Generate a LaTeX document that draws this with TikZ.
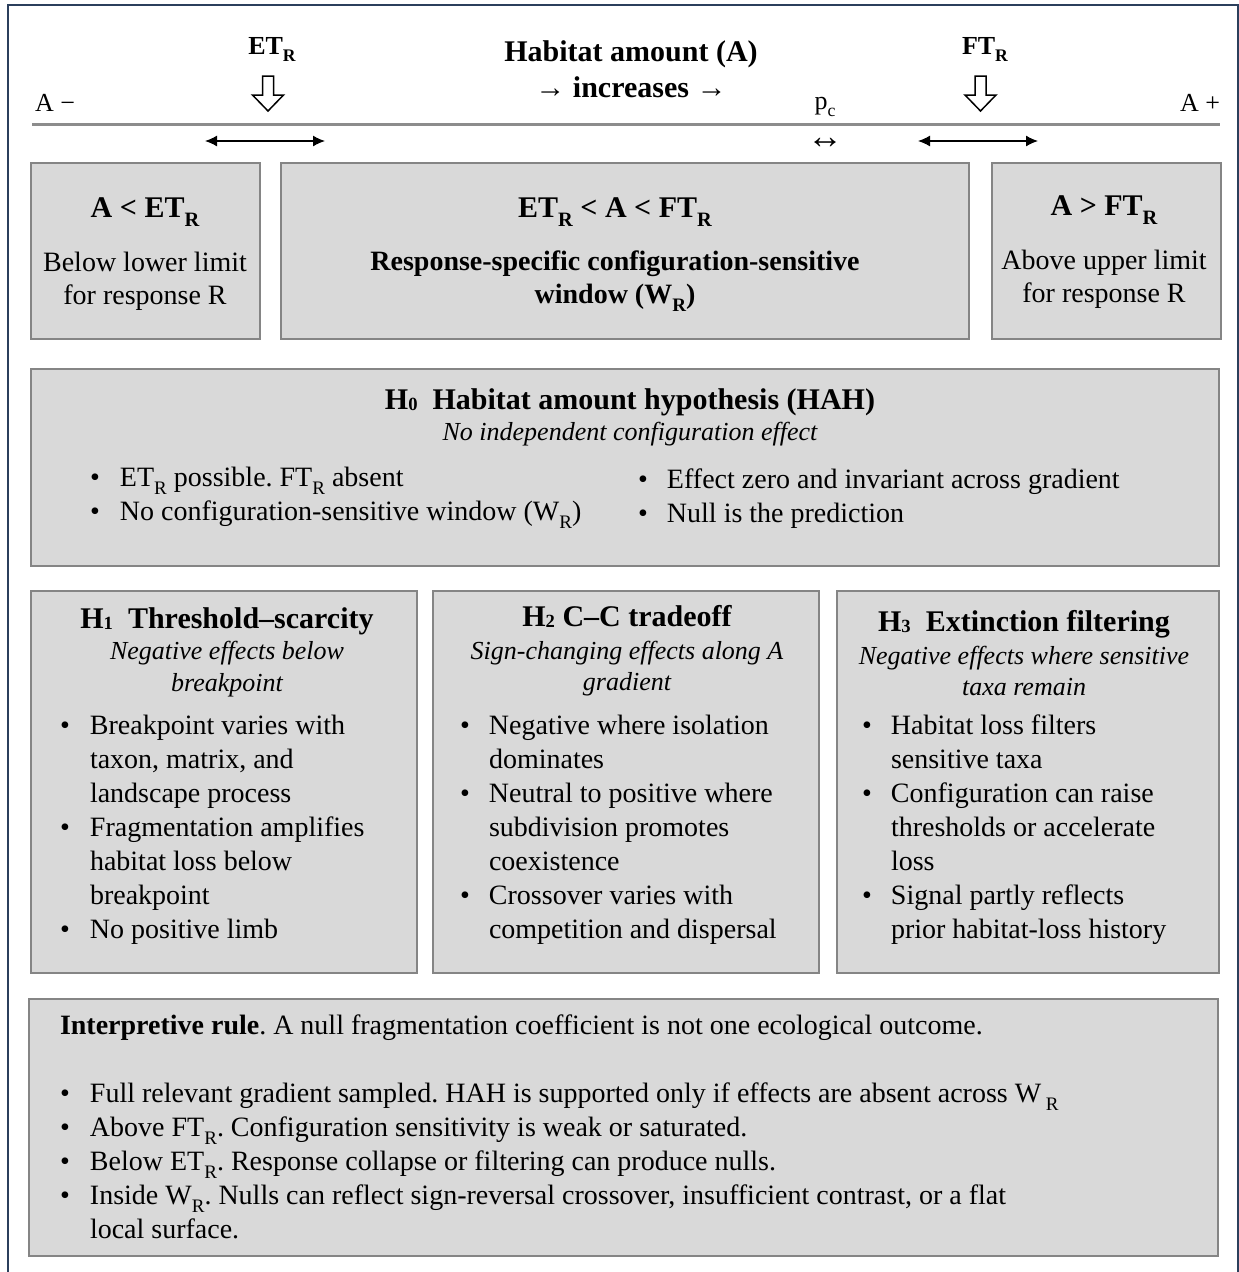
\documentclass[tikz,border=0pt]{standalone}
\usepackage{fontspec}
\setmainfont{Liberation Serif}
\usetikzlibrary{arrows.meta}
\definecolor{boxfill}{HTML}{D9D9D9}
\definecolor{boxline}{HTML}{858585}
\definecolor{framecol}{HTML}{2B3F5C}
\definecolor{axiscol}{HTML}{8C8C8C}
\newcommand\lsub[1]{\raisebox{-0.3em}{\scalebox{0.68}{#1}}}
\newcommand\dsub[1]{\raisebox{-0.06em}{\scalebox{0.62}{#1}}}
\newcommand\fs[2]{\fontsize{#1}{#2}\selectfont}
\newcommand\bul{\textbullet}
\frenchspacing
\begin{document}
\begin{tikzpicture}[x=1pt,y=-1pt,
  panel/.style={draw=boxline, fill=boxfill, line width=1.6pt, inner sep=0pt, anchor=north west},
  txt/.style={inner sep=0pt, outer sep=0pt, anchor=base},
  ltxt/.style={inner sep=0pt, outer sep=0pt, anchor=base west},
  body/.style={font=\fs{28}{34}},
  hdr/.style={font=\fs{26}{30}},
  btitle/.style={font=\fs{30}{34}\bfseries},
  bbody/.style={font=\fs{28}{34}\bfseries},
  itsub/.style={font=\fs{26}{32}\itshape},
  dbl/.style={{Latex[length=12pt,width=11pt]}-{Latex[length=12pt,width=11pt]}, line width=1.3pt},
  hollow/.style={draw=black, fill=white, line width=1.5pt, line join=miter}
]
\useasboundingbox (0,0) rectangle (1239,1272);
% outer frame
\draw[framecol, line width=2.2pt] (8,1285) -- (8,5) -- (1238,5) -- (1238,1285);

% ---------- header ----------
\node[txt, font=\fs{26}{30}\bfseries] (etlab) at (272,54) {ET\lsub{R}};
\node[txt, font=\fs{30}{34}\bfseries] (title1) at (631,61) {Habitat amount (A)};
\node[txt, font=\fs{30}{34}\bfseries] (title2) at (631,97) {→ increases →};
\node[txt, font=\fs{26}{30}\bfseries] (ftlab) at (985,54) {FT\lsub{R}};
\node[ltxt, hdr] (aminus) at (35,111) {A −};
\node[txt, hdr, anchor=base east] (aplus) at (1220,111) {A +};
\node[txt, hdr] (pc) at (825,109) {p\lsub{c}};
\node[txt, font=\fs{36}{40}] (pcarrow) at (825,148) {↔};

\coordinate (axL) at (32,124);
\coordinate (axR) at (1220,124);
\draw[axiscol, line width=3pt] (axL) -- (axR);

% hollow arrows
\draw[hollow] (262.5,76) -- (273.5,76) -- (273.5,95) -- (283.5,95) -- (268,111) -- (252.5,95) -- (262.5,95) -- cycle;
\draw[hollow] (975,76) -- (986,76) -- (986,95) -- (996,95) -- (980.5,111) -- (965,95) -- (975,95) -- cycle;

\coordinate (etL) at (205,141);
\coordinate (etR) at (325,141);
\coordinate (ftL) at (918,141);
\coordinate (ftR) at (1038,141);
\draw[dbl] (etL) -- (etR);
\draw[dbl] (ftL) -- (ftR);

% ---------- row 1 ----------
\node[panel, minimum width=229pt, minimum height=176pt] (boxA) at (30,162) {};
\node[panel, minimum width=688pt, minimum height=176pt] (boxB) at (280,162) {};
\node[panel, minimum width=229pt, minimum height=176pt] (boxC) at (991,162) {};

\node[txt, btitle] (aT) at (145,217) {A < ET\lsub{R}};
\node[txt, body] (aL1) at (145,271) {Below lower limit};
\node[txt, body] (aL2) at (145,304) {for response R};

\node[txt, btitle] (bT) at (615,217) {ET\lsub{R} < A < FT\lsub{R}};
\node[txt, bbody] (bL1) at (615,270) {Response-specific configuration-sensitive};
\node[txt, bbody] (bL2) at (615,303) {window (W\lsub{R})};

\node[txt, btitle] (cT) at (1104,215) {A > FT\lsub{R}};
\node[txt, body] (cL1) at (1104,269) {Above upper limit};
\node[txt, body] (cL2) at (1104,302) {for response R};

% ---------- H0 ----------
\node[panel, minimum width=1188pt, minimum height=197pt] (boxH0) at (30,368) {};
\node[txt, btitle] (h0T) at (630,409) {H\dsub{0}\hspace{0.5em}Habitat amount hypothesis (HAH)};
\node[txt, itsub] (h0S) at (630,440) {No independent configuration effect};
\node[ltxt, body] (h0L) at (90,486) {\begin{tabular}[t]{@{}p{30pt}@{}l@{}}
\bul & ET\lsub{R} possible. FT\lsub{R} absent\\
\bul & No configuration-sensitive window (W\lsub{R})
\end{tabular}};
\node[ltxt, body] (h0R) at (638,488) {\begin{tabular}[t]{@{}p{29pt}@{}l@{}}
\bul & Effect zero and invariant across gradient\\
\bul & Null is the prediction
\end{tabular}};

% ---------- row 3 ----------
\node[panel, minimum width=386pt, minimum height=382pt] (boxH1) at (30,590) {};
\node[panel, minimum width=386pt, minimum height=382pt] (boxH2) at (432,590) {};
\node[panel, minimum width=382pt, minimum height=382pt] (boxH3) at (836,590) {};

\node[txt, btitle] (h1T) at (227,628) {H\dsub{1}\hspace{0.5em}Threshold–scarcity};
\node[txt, itsub] (h1S1) at (227,659) {Negative effects below};
\node[txt, itsub] (h1S2) at (227,691) {breakpoint};
\node[ltxt, body] (h1L) at (60,734) {\begin{tabular}[t]{@{}p{30pt}@{}l@{}}
\bul & Breakpoint varies with\\
 & taxon, matrix, and\\
 & landscape process\\
\bul & Fragmentation amplifies\\
 & habitat loss below\\
 & breakpoint\\
\bul & No positive limb
\end{tabular}};

\node[txt, btitle] (h2T) at (627,626) {H\dsub{2} C–C tradeoff};
\node[txt, itsub] (h2S1) at (627,659) {Sign-changing effects along A};
\node[txt, itsub] (h2S2) at (627,690) {gradient};
\node[ltxt, body] (h2L) at (460,734) {\begin{tabular}[t]{@{}p{29pt}@{}l@{}}
\bul & Negative where isolation\\
 & dominates\\
\bul & Neutral to positive where\\
 & subdivision promotes\\
 & coexistence\\
\bul & Crossover varies with\\
 & competition and dispersal
\end{tabular}};

\node[txt, btitle] (h3T) at (1024,631) {H\dsub{3}\hspace{0.5em}Extinction filtering};
\node[txt, itsub] (h3S1) at (1024,664) {Negative effects where sensitive};
\node[txt, itsub] (h3S2) at (1024,695) {taxa remain};
\node[ltxt, body] (h3L) at (862,734) {\begin{tabular}[t]{@{}p{29pt}@{}l@{}}
\bul & Habitat loss filters\\
 & sensitive taxa\\
\bul & Configuration can raise\\
 & thresholds or accelerate\\
 & loss\\
\bul & Signal partly reflects\\
 & prior habitat-loss history
\end{tabular}};

% ---------- bottom ----------
\node[panel, minimum width=1189pt, minimum height=257pt] (boxR) at (28,998) {};
\node[ltxt, body] (rT) at (60,1034) {\textbf{Interpretive rule}. A null fragmentation coefficient is not one ecological outcome.};
\node[ltxt, body] (rL) at (60,1102) {\begin{tabular}[t]{@{}p{30pt}@{}l@{}}
\bul & Full relevant gradient sampled. HAH is supported only if effects are absent across W\,\lsub{R}\\
\bul & Above FT\lsub{R}. Configuration sensitivity is weak or saturated.\\
\bul & Below ET\lsub{R}. Response collapse or filtering can produce nulls.\\
\bul & Inside W\lsub{R}. Nulls can reflect sign-reversal crossover, insufficient contrast, or a flat\\
 & local surface.
\end{tabular}};
\end{tikzpicture}
\end{document}
